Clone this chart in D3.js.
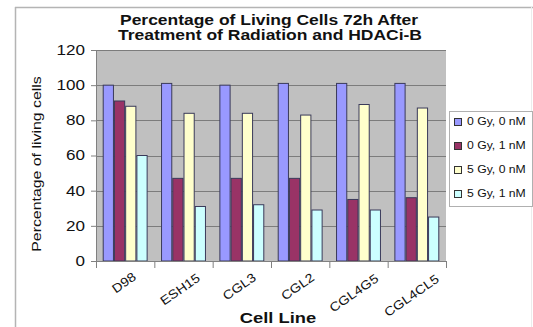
<!DOCTYPE html>
<html>
<head>
<meta charset="utf-8">
<script src="https://cdn.jsdelivr.net/npm/d3@7"></script>
<style>
  html, body { margin: 0; padding: 0; background: #fff; }
  svg { display: block; font-family: "Liberation Sans", Arial, sans-serif; }
</style>
</head>
<body>
<svg id="chart" width="533" height="327"></svg>
<script>
// Cell lines on the x axis
const cellLines = ["D98", "ESH15", "CGL3", "CGL2", "CGL4G5", "CGL4CL5"];
// Treatment groups (legend entries)
const seriesNames = ["0 Gy, 0 nM", "0 Gy, 1 nM", "5 Gy, 0 nM", "5 Gy, 1 nM"];
// Percentage of living cells per treatment, one value per cell line
const gy0nm0 = [100, 101, 100, 101, 101, 101];
const gy0nm1 = [91, 47, 47, 47, 35, 36];
const gy5nm0 = [88, 84, 84, 83, 89, 87];
const gy5nm1 = [60, 31, 32, 29, 29, 25];
const yTicks = [0, 20, 40, 60, 80, 100, 120];

const seriesValues = [gy0nm0, gy0nm1, gy5nm0, gy5nm1];
const colors = ["#9999ff", "#993366", "#ffffcc", "#ccffff"];

const svg = d3.select("#chart");
const plot = { left: 96, right: 446, top: 50, bottom: 261 };

// widen glyphs a little along the text direction
const WIDEN = 1.22;
function widen(sel, factor = WIDEN) {
  sel.each(function () {
    const w = this.getComputedTextLength();
    this.setAttribute("textLength", (w * factor).toFixed(1));
    this.setAttribute("lengthAdjust", "spacingAndGlyphs");
  });
}

// outer chart frame
svg.append("line").attr("x1", 15.5).attr("x2", 15.5).attr("y1", 7).attr("y2", 327)
  .attr("stroke", "#b4b4b4").attr("stroke-width", 1.5);
svg.append("line").attr("x1", 15).attr("x2", 533).attr("y1", 7.5).attr("y2", 7.5)
  .attr("stroke", "#b4b4b4").attr("stroke-width", 1.5);
svg.append("line").attr("x1", 531.5).attr("x2", 531.5).attr("y1", 7).attr("y2", 327)
  .attr("stroke", "#ececec").attr("stroke-width", 1);

const x0 = d3.scaleBand().domain(cellLines).range([plot.left, plot.right]).padding(0);
const bw = x0.bandwidth();
const x1 = d3.scaleBand().domain(seriesNames).range([bw * 0.115, bw * 0.885]).padding(0);
const y = d3.scaleLinear().domain([0, 120]).range([plot.bottom, plot.top]);

// plot background
svg.append("rect")
  .attr("x", plot.left).attr("y", plot.top)
  .attr("width", plot.right - plot.left).attr("height", plot.bottom - plot.top)
  .attr("fill", "#c0c0c0");

// horizontal gridlines
svg.append("g").selectAll("line")
  .data(yTicks.filter(d => d > 0))
  .join("line")
  .attr("x1", plot.left).attr("x2", plot.right)
  .attr("y1", d => Math.round(y(d)) + 0.5).attr("y2", d => Math.round(y(d)) + 0.5)
  .attr("stroke", "#7c7c7c").attr("stroke-width", 1);

// bars
const groups = svg.append("g").selectAll("g")
  .data(cellLines)
  .join("g")
  .attr("transform", d => `translate(${x0(d)},0)`);

groups.selectAll("rect")
  .data((d, i) => seriesNames.map((s, k) => ({ s, v: seriesValues[k][i], k })))
  .join("rect")
  .attr("x", d => x1(d.s) + 0.5)
  .attr("y", d => y(d.v))
  .attr("width", x1.bandwidth() - 1)
  .attr("height", d => y(0) - y(d.v))
  .attr("fill", d => colors[d.k])
  .attr("stroke", "#3a3a5a")
  .attr("stroke-width", 1);

// y axis
const yAxis = svg.append("g")
  .attr("transform", `translate(${plot.left},0)`)
  .call(d3.axisLeft(y).tickValues(yTicks).tickSize(5).tickPadding(6).tickFormat(d3.format("d")));
yAxis.select(".domain").attr("stroke", "#808080");
yAxis.selectAll(".tick line").attr("stroke", "#808080");
yAxis.selectAll("text").attr("font-size", 14).attr("fill", "#111")
  .attr("font-family", "Liberation Sans, Arial, sans-serif");
widen(yAxis.selectAll("text"));

// x axis with tick marks between categories
const xAxis = svg.append("g").attr("transform", `translate(0,${plot.bottom})`);
xAxis.append("line").attr("x1", plot.left).attr("x2", plot.right)
  .attr("y1", 0.5).attr("y2", 0.5).attr("stroke", "#808080");
xAxis.selectAll("line.sep")
  .data(cellLines)
  .join("line")
  .attr("class", "sep")
  .attr("x1", (d, i) => plot.left + bw * (i + 1) + 0.5)
  .attr("x2", (d, i) => plot.left + bw * (i + 1) + 0.5)
  .attr("y1", 0).attr("y2", 7)
  .attr("stroke", "#808080");
xAxis.append("line").attr("x1", plot.left + 0.5).attr("x2", plot.left + 0.5)
  .attr("y1", 0).attr("y2", 7).attr("stroke", "#808080");

// slanted category labels; longer labels sit a little further right
const xLabels = xAxis.selectAll("text")
  .data(cellLines)
  .join("text")
  .attr("text-anchor", "end")
  .attr("dy", "0.7em")
  .attr("font-size", 12.5)
  .attr("fill", "#111")
  .text(d => d);
widen(xLabels, 1.14);
xLabels.each(function (d) {
  const len = +this.getAttribute("textLength");
  const ex = x0(d) + bw / 2 - 1 + 0.3 * len;
  const ey = 9 + 0.06 * len;
  d3.select(this).attr("transform", `translate(${ex},${ey}) rotate(-35)`);
});

// titles
svg.append("text").attr("x", 269).attr("y", 25)
  .attr("text-anchor", "middle").attr("font-size", 14).attr("font-weight", "bold")
  .attr("fill", "#111").attr("textLength", 298).attr("lengthAdjust", "spacingAndGlyphs")
  .text("Percentage of Living Cells 72h After");
svg.append("text").attr("x", 270).attr("y", 40)
  .attr("text-anchor", "middle").attr("font-size", 14).attr("font-weight", "bold")
  .attr("fill", "#111").attr("textLength", 304).attr("lengthAdjust", "spacingAndGlyphs")
  .text("Treatment of Radiation and HDACi-B");

const yTitle = svg.append("text")
  .attr("transform", `translate(41,164) rotate(-90)`)
  .attr("text-anchor", "middle").attr("font-size", 13)
  .attr("fill", "#111").text("Percentage of living cells");
widen(yTitle);

const xTitle = svg.append("text").attr("x", 278).attr("y", 323)
  .attr("text-anchor", "middle").attr("font-size", 15).attr("font-weight", "bold")
  .attr("fill", "#111").text("Cell Line");
widen(xTitle);

// legend
const legend = svg.append("g").attr("transform", "translate(449,111)");
legend.append("rect").attr("x", 0.5).attr("y", 0.5).attr("width", 83).attr("height", 95)
  .attr("fill", "#fff").attr("stroke", "#b0b0b0");
const items = legend.selectAll("g.item")
  .data(seriesNames)
  .join("g")
  .attr("class", "item")
  .attr("transform", (d, i) => `translate(5,${11 + i * 24})`);
items.append("rect").attr("x", 0.5).attr("y", -3.5).attr("width", 7).attr("height", 7)
  .attr("fill", (d, i) => colors[i]).attr("stroke", "#333");
const legendText = items.append("text").attr("x", 13).attr("y", 3)
  .attr("font-size", 10).attr("fill", "#111").text(d => d);
widen(legendText);
</script>
</body>
</html>
